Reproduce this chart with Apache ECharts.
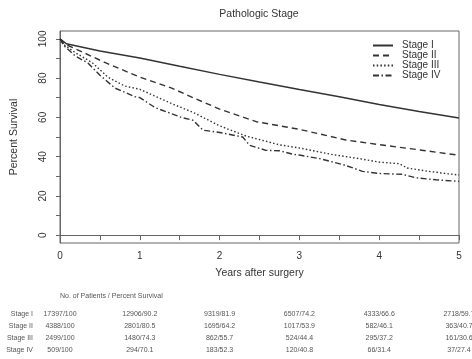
<!DOCTYPE html>
<html>
<head>
<meta charset="utf-8">
<script src="https://cdn.jsdelivr.net/npm/echarts@6/dist/echarts.min.js"></script>
<style>
  html, body { margin: 0; padding: 0; background: #fff; }
  #chart { width: 472px; height: 359px; }
</style>
</head>
<body>
<div id="chart"></div>
<script>
// survival curves (years, percent)
const stage1T = [0, 0.08, 0.5, 1, 1.5, 2, 2.5, 3, 3.5, 4, 4.5, 5];
const stage1V = [100, 97.5, 93.8, 90.2, 86, 81.9, 78, 74.2, 70.5, 66.6, 63, 59.7];
const stage2T = [0, 0.05, 0.19, 0.56, 1, 1.4, 1.67, 2, 2.46, 3, 3.58, 4, 4.38, 5];
const stage2V = [100, 97.5, 95, 88, 80.5, 74.9, 70, 64.2, 57.8, 53.9, 48.5, 46.1, 44.1, 40.7];
const stage3T = [0, 0.05, 0.19, 0.4, 0.6, 0.81, 1, 1.4, 1.67, 2, 2.33, 2.75, 3, 3.42, 3.75, 4, 4.25, 4.35, 4.6, 5];
const stage3V = [100, 97, 93, 88, 80.5, 76, 74.3, 67, 62.5, 55.7, 50.5, 46, 44.4, 41, 39, 37.2, 36.4, 34.2, 32.6, 30.6];
const stage4T = [0, 0.05, 0.19, 0.35, 0.5, 0.69, 0.94, 1, 1.19, 1.52, 1.67, 1.79, 2, 2.29, 2.375, 2.58, 2.75, 2.92, 3, 3.25, 3.54, 3.66, 3.79, 4, 4.29, 4.46, 4.71, 5];
const stage4V = [100, 96.5, 91.3, 87.7, 81.5, 74.9, 70.5, 70.1, 65, 60, 58.5, 53.5, 52.3, 50, 45.8, 43.2, 43, 41.2, 40.8, 39, 36, 34.4, 32.5, 31.4, 31, 29.2, 28.2, 27.4];

const stageNames = ['Stage I', 'Stage II', 'Stage III', 'Stage IV'];
const yTicks = [0, 10, 20, 30, 40, 50, 60, 70, 80, 90, 100];
const yLabels = [0, 20, 40, 60, 80, 100];

// table under the plot
const tableYears = [0, 1, 2, 3, 4, 5];
const tableStage1 = ['17397/100', '12906/90.2', '9319/81.9', '6507/74.2', '4333/66.6', '2718/59.7'];
const tableStage2 = ['4388/100', '2801/80.5', '1695/64.2', '1017/53.9', '582/46.1', '363/40.7'];
const tableStage3 = ['2499/100', '1480/74.3', '862/55.7', '524/44.4', '295/37.2', '161/30.6'];
const tableStage4 = ['509/100', '294/70.1', '183/52.3', '120/40.8', '66/31.4', '37/27.4'];

const font = 'Liberation Sans, Arial, sans-serif';
const ink = '#333';

function pairs(t, v) {
  return t.map((x, i) => [x, v[i]]);
}

const curves = [
  { t: stage1T, v: stage1V, dash: 'solid', w: 1.5 },
  { t: stage2T, v: stage2V, dash: [6, 4], w: 1.4 },
  { t: stage3T, v: stage3V, dash: [1.5, 2.2], w: 1.4 },
  { t: stage4T, v: stage4V, dash: [6, 2.5, 1.5, 2.5], w: 1.4 }
];

let chart = echarts.init(document.getElementById('chart'));

const option = {
  animation: false,
  title: {
    text: 'Pathologic Stage',
    left: 259,
    top: 9,
    padding: 0,
    textAlign: 'center',
    textStyle: { fontFamily: font, fontSize: 10.5, fontWeight: 'normal', color: ink }
  },
  legend: {
    orient: 'vertical',
    left: 372,
    top: 40.5,
    padding: 0,
    itemWidth: 20,
    itemHeight: 7,
    itemGap: 0,
    data: stageNames,
    itemStyle: { opacity: 0 },
    textStyle: { fontFamily: font, fontSize: 10, color: ink, lineHeight: 9.4, padding: [0, 0, 0, 4] }
  },
  grid: {
    left: 60, right: 13, top: 31, bottom: 116,
    show: true, borderColor: '#666', borderWidth: 1
  },
  xAxis: {
    type: 'value',
    min: 0, max: 5, interval: 0.5,
    name: 'Years after surgery',
    nameLocation: 'middle',
    nameGap: 25,
    nameTextStyle: { fontFamily: font, fontSize: 10.5, color: ink },
    axisLine: { show: true, lineStyle: { color: '#666' } },
    axisTick: { show: true, inside: false, length: 5, lineStyle: { color: '#666' } },
    axisLabel: {
      margin: 8, fontFamily: font, fontSize: 10, color: ink,
      formatter: v => (v % 1 === 0 ? String(v) : '')
    },
    splitLine: { show: false }
  },
  yAxis: {
    type: 'value',
    min: -4, max: 104,
    name: 'Percent Survival',
    nameLocation: 'middle',
    nameGap: 40,
    nameTextStyle: { fontFamily: font, fontSize: 10.5, color: ink },
    axisLine: { show: true, lineStyle: { color: '#666' } },
    axisTick: { show: true, inside: false, length: 4, customValues: yTicks, lineStyle: { color: '#666' } },
    axisLabel: {
      rotate: 90, margin: 12, fontFamily: font, fontSize: 10, color: ink,
      customValues: yLabels
    },
    splitLine: { show: false }
  },
  series: curves.map((c, i) => ({
    name: stageNames[i],
    type: 'line',
    symbol: 'none',
    data: pairs(c.t, c.v),
    lineStyle: { color: ink, width: c.w, type: c.dash },
    itemStyle: { color: ink }
  }))
};
chart.setOption(option);

// table of patients / survival, placed under matching years
const tableRows = [tableStage1, tableStage2, tableStage3, tableStage4];
const rowY = [314, 326, 338, 350];
const tableStyle = { fontFamily: font, fontSize: 7, fill: '#555' };
const graphics = [{
  type: 'text', left: 60, top: 293,
  style: Object.assign({ text: 'No. of Patients / Percent Survival' }, tableStyle)
}];
tableRows.forEach((row, r) => {
  graphics.push({
    type: 'text', x: 33, y: rowY[r],
    style: Object.assign({ text: stageNames[r], align: 'right', verticalAlign: 'middle' }, tableStyle)
  });
  row.forEach((cell, c) => {
    const px = chart.convertToPixel({ xAxisIndex: 0 }, tableYears[c]);
    graphics.push({
      type: 'text', x: px, y: rowY[r],
      style: Object.assign({ text: cell, align: 'center', verticalAlign: 'middle' }, tableStyle)
    });
  });
});
chart.setOption({ graphic: graphics });
</script>
</body>
</html>
